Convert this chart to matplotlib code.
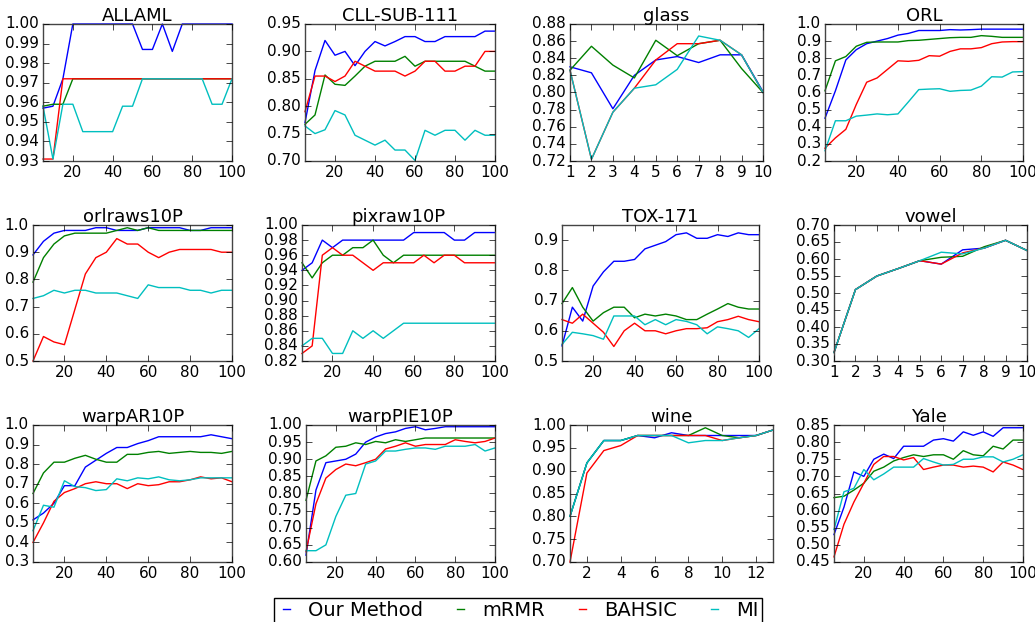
import matplotlib
matplotlib.use('Agg')
import matplotlib.pyplot as plt
import numpy as np

plt.style.use('classic')

# number of selected features
feat_20 = list(range(5, 105, 5))
feat_10 = list(range(1, 11))
feat_13 = list(range(1, 14))

# ALLAML
allaml_ours = [0.957, 0.958, 0.972, 1.0, 1.0, 1.0, 1.0, 1.0, 1.0, 1.0, 0.987, 0.987, 1.0, 0.986, 1.0, 1.0, 1.0, 1.0, 1.0, 1.0]
allaml_mrmr = [0.958, 0.959, 0.959, 0.972, 0.972, 0.972, 0.972, 0.972, 0.972, 0.972, 0.972, 0.972, 0.972, 0.972, 0.972, 0.972, 0.972, 0.972, 0.972, 0.972]
allaml_bahsic = [0.931, 0.931, 0.972, 0.972, 0.972, 0.972, 0.972, 0.972, 0.972, 0.972, 0.972, 0.972, 0.972, 0.972, 0.972, 0.972, 0.972, 0.972, 0.972, 0.972]
allaml_mi = [0.958, 0.931, 0.959, 0.959, 0.945, 0.945, 0.945, 0.945, 0.958, 0.958, 0.972, 0.972, 0.972, 0.972, 0.972, 0.972, 0.972, 0.959, 0.959, 0.972]

# CLL-SUB-111
cll_ours = [0.77, 0.865, 0.92, 0.893, 0.90, 0.874, 0.90, 0.918, 0.91, 0.918, 0.927, 0.927, 0.918, 0.918, 0.927, 0.927, 0.927, 0.927, 0.937, 0.937]
cll_mrmr = [0.767, 0.784, 0.857, 0.84, 0.838, 0.855, 0.873, 0.882, 0.882, 0.882, 0.891, 0.873, 0.882, 0.882, 0.882, 0.882, 0.882, 0.873, 0.864, 0.864]
cll_bahsic = [0.79, 0.855, 0.855, 0.845, 0.855, 0.882, 0.873, 0.864, 0.864, 0.864, 0.855, 0.864, 0.882, 0.882, 0.864, 0.864, 0.873, 0.873, 0.90, 0.90]
cll_mi = [0.764, 0.75, 0.757, 0.792, 0.784, 0.747, 0.738, 0.729, 0.738, 0.72, 0.72, 0.701, 0.756, 0.747, 0.756, 0.756, 0.738, 0.756, 0.747, 0.747]

# glass
glass_ours = [0.83, 0.823, 0.781, 0.82, 0.838, 0.842, 0.835, 0.844, 0.844, 0.801]
glass_mrmr = [0.826, 0.854, 0.832, 0.817, 0.861, 0.843, 0.857, 0.861, 0.828, 0.80]
glass_bahsic = [0.826, 0.722, 0.777, 0.805, 0.838, 0.857, 0.857, 0.861, 0.844, 0.80]
glass_mi = [0.826, 0.722, 0.777, 0.805, 0.809, 0.827, 0.866, 0.861, 0.844, 0.80]

# ORL
orl_ours = [0.45, 0.61, 0.79, 0.85, 0.885, 0.90, 0.915, 0.935, 0.945, 0.962, 0.962, 0.962, 0.967, 0.965, 0.967, 0.97, 0.97, 0.97, 0.97, 0.97]
orl_mrmr = [0.61, 0.785, 0.81, 0.87, 0.893, 0.895, 0.895, 0.895, 0.903, 0.905, 0.91, 0.915, 0.92, 0.922, 0.922, 0.932, 0.928, 0.922, 0.922, 0.922]
orl_bahsic = [0.275, 0.335, 0.385, 0.53, 0.66, 0.685, 0.735, 0.785, 0.782, 0.788, 0.815, 0.812, 0.84, 0.855, 0.855, 0.862, 0.885, 0.895, 0.897, 0.897]
orl_mi = [0.26, 0.435, 0.435, 0.462, 0.468, 0.475, 0.47, 0.475, 0.545, 0.617, 0.62, 0.622, 0.607, 0.612, 0.614, 0.637, 0.692, 0.69, 0.72, 0.722]

# orlraws10P
orlraws_ours = [0.89, 0.94, 0.97, 0.98, 0.98, 0.98, 0.99, 0.99, 0.98, 0.98, 0.98, 0.99, 0.99, 0.99, 0.99, 0.98, 0.98, 0.99, 0.99, 0.99]
orlraws_mrmr = [0.79, 0.88, 0.93, 0.96, 0.97, 0.97, 0.97, 0.97, 0.98, 0.99, 0.98, 0.99, 0.98, 0.98, 0.98, 0.98, 0.98, 0.98, 0.98, 0.98]
orlraws_bahsic = [0.50, 0.59, 0.57, 0.56, 0.69, 0.82, 0.88, 0.90, 0.95, 0.93, 0.93, 0.90, 0.88, 0.90, 0.91, 0.91, 0.91, 0.91, 0.90, 0.90]
orlraws_mi = [0.73, 0.74, 0.76, 0.75, 0.76, 0.76, 0.75, 0.75, 0.75, 0.74, 0.73, 0.78, 0.77, 0.77, 0.77, 0.76, 0.76, 0.75, 0.76, 0.76]

# pixraw10P
pixraw_ours = [0.94, 0.95, 0.98, 0.97, 0.98, 0.98, 0.98, 0.98, 0.98, 0.98, 0.98, 0.99, 0.99, 0.99, 0.99, 0.98, 0.98, 0.99, 0.99, 0.99]
pixraw_mrmr = [0.95, 0.93, 0.95, 0.96, 0.96, 0.97, 0.97, 0.98, 0.96, 0.95, 0.96, 0.96, 0.96, 0.96, 0.96, 0.96, 0.96, 0.96, 0.96, 0.96]
pixraw_bahsic = [0.83, 0.84, 0.96, 0.97, 0.96, 0.96, 0.95, 0.94, 0.95, 0.95, 0.95, 0.95, 0.96, 0.95, 0.96, 0.96, 0.95, 0.95, 0.95, 0.95]
pixraw_mi = [0.84, 0.85, 0.85, 0.83, 0.83, 0.86, 0.85, 0.86, 0.85, 0.86, 0.87, 0.87, 0.87, 0.87, 0.87, 0.87, 0.87, 0.87, 0.87, 0.87]

# TOX-171
tox_ours = [0.55, 0.678, 0.632, 0.748, 0.795, 0.83, 0.83, 0.836, 0.871, 0.883, 0.895, 0.918, 0.924, 0.906, 0.906, 0.918, 0.912, 0.924, 0.918, 0.918]
tox_mrmr = [0.69, 0.743, 0.678, 0.632, 0.66, 0.678, 0.678, 0.643, 0.655, 0.649, 0.655, 0.649, 0.637, 0.637, 0.655, 0.672, 0.69, 0.678, 0.672, 0.672]
tox_bahsic = [0.637, 0.625, 0.655, 0.625, 0.595, 0.548, 0.60, 0.625, 0.60, 0.60, 0.59, 0.60, 0.607, 0.607, 0.61, 0.63, 0.637, 0.648, 0.637, 0.63]
tox_mi = [0.555, 0.595, 0.59, 0.584, 0.572, 0.649, 0.649, 0.649, 0.62, 0.637, 0.62, 0.637, 0.631, 0.62, 0.59, 0.613, 0.607, 0.60, 0.578, 0.607]

# vowel
vowel_ours = [0.325, 0.51, 0.55, 0.572, 0.595, 0.585, 0.627, 0.632, 0.655, 0.625]
vowel_mrmr = [0.325, 0.51, 0.55, 0.572, 0.595, 0.605, 0.608, 0.636, 0.655, 0.625]
vowel_bahsic = [0.325, 0.51, 0.55, 0.572, 0.595, 0.585, 0.618, 0.632, 0.655, 0.625]
vowel_mi = [0.325, 0.51, 0.55, 0.572, 0.595, 0.62, 0.615, 0.632, 0.655, 0.625]

# warpAR10P
warpar_ours = [0.515, 0.55, 0.60, 0.69, 0.69, 0.785, 0.82, 0.855, 0.885, 0.885, 0.905, 0.92, 0.94, 0.94, 0.94, 0.94, 0.94, 0.95, 0.94, 0.93]
warpar_mrmr = [0.65, 0.755, 0.81, 0.81, 0.83, 0.845, 0.825, 0.81, 0.81, 0.85, 0.85, 0.86, 0.865, 0.855, 0.86, 0.865, 0.86, 0.86, 0.855, 0.865]
warpar_bahsic = [0.40, 0.50, 0.61, 0.655, 0.675, 0.70, 0.71, 0.70, 0.70, 0.675, 0.70, 0.69, 0.695, 0.71, 0.71, 0.72, 0.735, 0.725, 0.73, 0.71]
warpar_mi = [0.46, 0.59, 0.58, 0.715, 0.685, 0.68, 0.665, 0.67, 0.725, 0.715, 0.73, 0.725, 0.735, 0.72, 0.715, 0.72, 0.73, 0.73, 0.73, 0.73]

# warpPIE10P
warppie_ours = [0.62, 0.81, 0.89, 0.895, 0.90, 0.915, 0.95, 0.965, 0.975, 0.98, 0.99, 0.995, 0.986, 0.99, 0.995, 0.995, 0.995, 0.995, 0.995, 0.995]
warppie_mrmr = [0.78, 0.895, 0.91, 0.935, 0.938, 0.948, 0.943, 0.952, 0.948, 0.957, 0.952, 0.957, 0.962, 0.962, 0.962, 0.962, 0.962, 0.962, 0.962, 0.962]
warppie_bahsic = [0.63, 0.77, 0.845, 0.87, 0.886, 0.881, 0.89, 0.90, 0.93, 0.938, 0.948, 0.938, 0.943, 0.943, 0.943, 0.957, 0.952, 0.948, 0.952, 0.962]
warppie_mi = [0.633, 0.633, 0.65, 0.733, 0.795, 0.80, 0.886, 0.895, 0.924, 0.924, 0.929, 0.933, 0.933, 0.929, 0.938, 0.938, 0.938, 0.943, 0.924, 0.933]

# wine
wine_ours = [0.80, 0.917, 0.966, 0.966, 0.977, 0.972, 0.983, 0.977, 0.977, 0.977, 0.977, 0.977, 0.989]
wine_mrmr = [0.80, 0.917, 0.966, 0.966, 0.977, 0.977, 0.977, 0.977, 0.994, 0.977, 0.972, 0.977, 0.989]
wine_bahsic = [0.70, 0.895, 0.944, 0.955, 0.977, 0.977, 0.977, 0.977, 0.977, 0.966, 0.972, 0.977, 0.989]
wine_mi = [0.80, 0.917, 0.966, 0.966, 0.977, 0.977, 0.977, 0.961, 0.966, 0.966, 0.972, 0.977, 0.989]

# Yale
yale_ours = [0.53, 0.61, 0.713, 0.70, 0.75, 0.765, 0.752, 0.788, 0.788, 0.788, 0.806, 0.81, 0.803, 0.83, 0.82, 0.83, 0.817, 0.842, 0.842, 0.842]
yale_mrmr = [0.638, 0.642, 0.66, 0.68, 0.715, 0.727, 0.745, 0.755, 0.763, 0.758, 0.763, 0.763, 0.75, 0.775, 0.763, 0.76, 0.788, 0.78, 0.806, 0.806]
yale_bahsic = [0.465, 0.56, 0.625, 0.68, 0.735, 0.758, 0.758, 0.748, 0.755, 0.72, 0.727, 0.733, 0.733, 0.727, 0.73, 0.727, 0.713, 0.742, 0.733, 0.72]
yale_mi = [0.545, 0.655, 0.665, 0.72, 0.69, 0.707, 0.727, 0.727, 0.727, 0.752, 0.742, 0.733, 0.735, 0.75, 0.75, 0.757, 0.757, 0.742, 0.75, 0.763]

methods = ['Our Method', 'mRMR', 'BAHSIC', 'MI']
colors = ['b', 'g', 'r', 'c']

# (title, x, series, ylim, yticks, xticks)
panels = [
    ('ALLAML', feat_20, [allaml_ours, allaml_mrmr, allaml_bahsic, allaml_mi], (0.93, 1.0), np.arange(0.93, 1.001, 0.01), [20, 40, 60, 80, 100]),
    ('CLL-SUB-111', feat_20, [cll_ours, cll_mrmr, cll_bahsic, cll_mi], (0.70, 0.95), np.arange(0.70, 0.951, 0.05), [20, 40, 60, 80, 100]),
    ('glass', feat_10, [glass_ours, glass_mrmr, glass_bahsic, glass_mi], (0.72, 0.88), np.arange(0.72, 0.881, 0.02), feat_10),
    ('ORL', feat_20, [orl_ours, orl_mrmr, orl_bahsic, orl_mi], (0.2, 1.0), np.arange(0.2, 1.01, 0.1), [20, 40, 60, 80, 100]),
    ('orlraws10P', feat_20, [orlraws_ours, orlraws_mrmr, orlraws_bahsic, orlraws_mi], (0.5, 1.0), np.arange(0.5, 1.01, 0.1), [20, 40, 60, 80, 100]),
    ('pixraw10P', feat_20, [pixraw_ours, pixraw_mrmr, pixraw_bahsic, pixraw_mi], (0.82, 1.0), np.arange(0.82, 1.001, 0.02), [20, 40, 60, 80, 100]),
    ('TOX-171', feat_20, [tox_ours, tox_mrmr, tox_bahsic, tox_mi], (0.5, 0.95), np.arange(0.5, 0.91, 0.1), [20, 40, 60, 80, 100]),
    ('vowel', feat_10, [vowel_ours, vowel_mrmr, vowel_bahsic, vowel_mi], (0.30, 0.70), np.arange(0.30, 0.701, 0.05), feat_10),
    ('warpAR10P', feat_20, [warpar_ours, warpar_mrmr, warpar_bahsic, warpar_mi], (0.3, 1.0), np.arange(0.3, 1.01, 0.1), [20, 40, 60, 80, 100]),
    ('warpPIE10P', feat_20, [warppie_ours, warppie_mrmr, warppie_bahsic, warppie_mi], (0.60, 1.0), np.arange(0.60, 1.001, 0.05), [20, 40, 60, 80, 100]),
    ('wine', feat_13, [wine_ours, wine_mrmr, wine_bahsic, wine_mi], (0.70, 1.0), np.arange(0.70, 1.001, 0.05), [2, 4, 6, 8, 10, 12]),
    ('Yale', feat_20, [yale_ours, yale_mrmr, yale_bahsic, yale_mi], (0.45, 0.85), np.arange(0.45, 0.851, 0.05), [20, 40, 60, 80, 100]),
]

# axes boxes in pixels: left, top, right, bottom
boxes = [
    (43, 24, 232, 161), (305, 24, 495, 161), (570, 24, 763, 161), (825, 24, 1023, 161),
    (33, 225, 232, 361), (302, 225, 495, 361), (562, 225, 759, 361), (834, 225, 1027, 361),
    (33, 425, 232, 562), (306, 425, 495, 562), (570, 425, 773, 562), (834, 425, 1023, 562),
]

W, H = 1035, 622
fig = plt.figure(figsize=(W / 100, H / 100), dpi=100, facecolor='white')

for (title, x, series, ylim, yticks, xticks), (l, t, r, b) in zip(panels, boxes):
    ax = fig.add_axes([l / W, 1 - b / H, (r - l) / W, (b - t) / H])
    for ys, c, name in zip(series, colors, methods):
        ax.plot(x, ys, color=c, linewidth=1.0, label=name, clip_on=False)
    ax.set_xlim(x[0], x[-1])
    ax.set_ylim(*ylim)
    ax.set_yticks(yticks)
    ax.set_xticks(xticks)
    step = yticks[1] - yticks[0]
    fmt = '%.1f' if abs(step - round(step, 1)) < 1e-9 else '%.2f'
    ax.set_yticklabels([fmt % v for v in yticks])
    ax.set_title(title, fontsize=13, pad=2)
    ax.tick_params(labelsize=11, direction='in', length=4, pad=3)
    for sp in ax.spines.values():
        sp.set_color('#444444')
        sp.set_linewidth(1.0)

handles = [plt.Line2D([], [], color=c, linewidth=1.0) for c in colors]
fig.legend(handles, methods, loc='upper left', bbox_to_anchor=(274 / W, 1 - 598 / H),
           ncol=4, fontsize=14, handlelength=0.95, columnspacing=1.45, handletextpad=0.65,
           borderpad=0.15, borderaxespad=0.0, fancybox=False, frameon=True)

fig.savefig('out.png', dpi=100, facecolor='white')
